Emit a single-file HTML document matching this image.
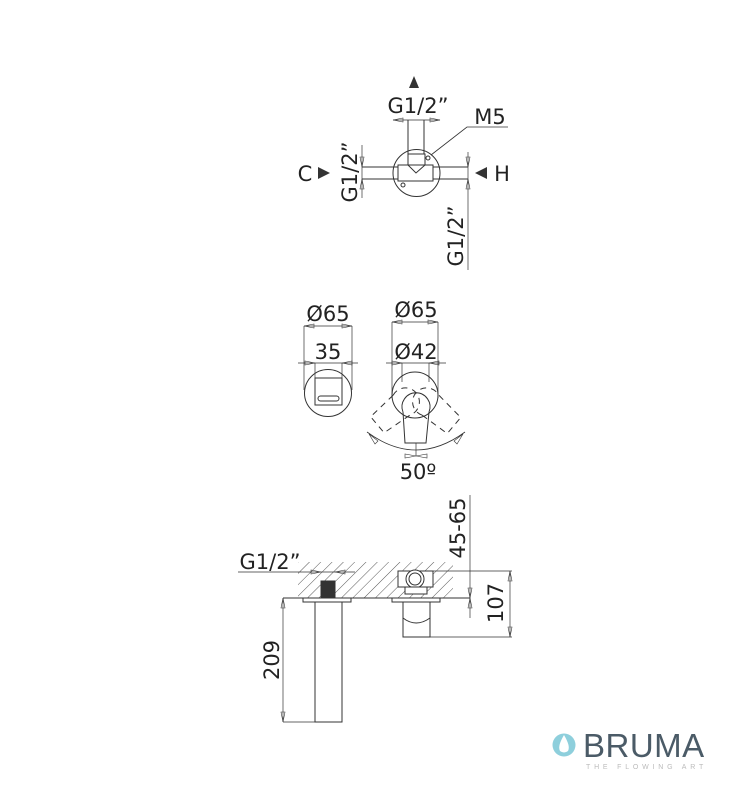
<!DOCTYPE html>
<html><head><meta charset="utf-8"><style>
html,body{margin:0;padding:0;background:#fff}
svg{display:block}
text{font-family:"DejaVu Sans","Liberation Sans",sans-serif;fill:#222}
</style></head><body>
<svg width="750" height="800" viewBox="0 0 750 800" xmlns="http://www.w3.org/2000/svg">
<defs>
<pattern id="h" width="8" height="8" patternUnits="userSpaceOnUse" patternTransform="rotate(45)">
<line x1="0" y1="0" x2="0" y2="8" stroke="#444" stroke-width="0.9"/>
</pattern>
</defs>
<g fill="none" stroke="#333" stroke-width="1">
<!-- TOP VIEW -->
<circle cx="416.5" cy="173" r="23.5"/>
<line x1="408" y1="120" x2="408" y2="154"/>
<line x1="424" y1="120" x2="424" y2="154"/>
<rect x="408" y="154" width="17" height="11"/>
<polyline points="408,165 416,173 425,165"/>
<rect x="398" y="165" width="35" height="16"/>
<circle cx="403" cy="185" r="2"/>
<circle cx="428" cy="158" r="2"/>
<line x1="362" y1="167" x2="398" y2="167"/>
<line x1="362" y1="179" x2="398" y2="179"/>
<line x1="433" y1="167" x2="468" y2="167"/>
<line x1="433" y1="179" x2="468" y2="179"/>
<line x1="362" y1="145" x2="362" y2="198" stroke-width="0.7"/>
<line x1="468" y1="152" x2="468" y2="270" stroke-width="0.7"/>
<line x1="393" y1="120" x2="440" y2="120" stroke-width="0.7"/>
<polyline points="431,155 467,127 508,127" stroke-width="0.8"/>
<!-- MIDDLE LEFT -->
<circle cx="328" cy="393" r="23.5"/>
<line x1="304" y1="326" x2="304" y2="390" stroke-width="0.7"/>
<line x1="352" y1="326" x2="352" y2="390" stroke-width="0.7"/>
<line x1="304" y1="326" x2="352" y2="326" stroke-width="0.7"/>
<line x1="298" y1="363" x2="358" y2="363" stroke-width="0.7"/>
<line x1="315" y1="363" x2="315" y2="378" stroke-width="0.7"/>
<line x1="342" y1="363" x2="342" y2="378" stroke-width="0.7"/>
<rect x="315" y="378" width="27" height="27"/>
<rect x="318" y="396" width="21" height="5" rx="2.5"/>
<!-- MIDDLE RIGHT -->
<line x1="392" y1="322" x2="438" y2="322" stroke-width="0.7"/>
<line x1="392" y1="322" x2="392" y2="398" stroke-width="0.7"/>
<line x1="438" y1="322" x2="438" y2="398" stroke-width="0.7"/>
<line x1="386" y1="363" x2="446" y2="363" stroke-width="0.7"/>
<line x1="402" y1="363" x2="402" y2="382" stroke-width="0.7"/>
<line x1="429" y1="363" x2="429" y2="382" stroke-width="0.7"/>
<circle cx="415" cy="395" r="23"/>
<path d="M403,412 A14,14 0 1 1 429,412"/>
<polyline points="403,412 405,443 426,443 429,412"/>
<g stroke-dasharray="6,5">
<g transform="rotate(-50 416 393)"><path d="M403,412 A14,14 0 1 1 429,412"/><polyline points="403,412 405,443 426,443 429,412"/></g>
<g transform="rotate(50 416 393)"><path d="M403,412 A14,14 0 1 1 429,412"/><polyline points="403,412 405,443 426,443 429,412"/></g>
</g>
<path d="M367,432 Q416,468 465,432" stroke-width="0.8"/>
<line x1="416" y1="443" x2="416" y2="456" stroke-width="0.7"/>
<!-- BOTTOM -->
<rect x="298" y="562" width="155" height="36" fill="url(#h)" stroke="none"/>
<rect x="398" y="571" width="35" height="16" fill="#fff"/>
<circle cx="415" cy="579" r="9" fill="#fff"/>
<circle cx="415" cy="579" r="6"/>
<rect x="405" y="587" width="22" height="7" fill="#fff"/>
<rect x="321" y="581" width="14" height="17" fill="#333"/>
<line x1="283" y1="598" x2="470" y2="598"/>
<rect x="303" y="598" width="48" height="4"/>
<rect x="392" y="598" width="48" height="4"/>
<rect x="315" y="602" width="27" height="120"/>
<rect x="403" y="602" width="27" height="35"/>
<path d="M403,618 Q416,628 430,618" />
<line x1="433" y1="571" x2="512" y2="571" stroke-width="0.7"/>
<line x1="430" y1="637" x2="512" y2="637" stroke-width="0.7"/>
<line x1="510" y1="571" x2="510" y2="637" stroke-width="0.7"/>
<line x1="470" y1="495" x2="470" y2="618" stroke-width="0.7"/>
<line x1="238" y1="572" x2="355" y2="572" stroke-width="0.7"/>
<line x1="283" y1="598" x2="283" y2="722" stroke-width="0.7"/>
<line x1="283" y1="722" x2="315" y2="722" stroke-width="0.7"/>
</g>
<!-- arrowheads -->
<g fill="#333">
<polygon points="414,76 409,88 419,88"/>
<polygon points="318,167 318,179 330,173"/>
<polygon points="487,167 487,179 475,173"/>
</g>
<g fill="none" stroke="#333" stroke-width="0.6">
<polygon points="393,120 403,118 403,122"/><polygon points="440,120 430,118 430,122"/>
<polygon points="362,167 360,157 364,157"/><polygon points="362,179 360,189 364,189"/>
<polygon points="468,167 466,157 470,157"/><polygon points="468,179 466,189 470,189"/>
<polygon points="304,326 314,324 314,328"/><polygon points="352,326 342,324 342,328"/>
<polygon points="315,363 305,361 305,365"/><polygon points="342,363 352,361 352,365"/>
<polygon points="392,322 402,320 402,324"/><polygon points="438,322 428,320 428,324"/>
<polygon points="402,363 392,361 392,365"/><polygon points="429,363 439,361 439,365"/>
<polygon points="416,456 405,454 405,458"/><polygon points="416,456 427,454 427,458"/>
<polygon points="369,434 375,444 378,441"/><polygon points="463,434 457,444 454,441"/>
<polygon points="510,571 508,581 512,581"/><polygon points="510,637 508,627 512,627"/>
<polygon points="470,598 468,588 472,588"/><polygon points="470,598 468,608 472,608"/>
<polygon points="283,598 281,608 285,608"/><polygon points="283,722 281,712 285,712"/>
<polygon points="321,572 311,570 311,574"/><polygon points="335,572 345,570 345,574"/>
</g>
<!-- text -->
<g font-size="21">
<text x="418" y="113" text-anchor="middle">G1/2”</text>
<text x="490" y="124" text-anchor="middle">M5</text>
<text x="305" y="181" text-anchor="middle">C</text>
<text x="502" y="181" text-anchor="middle">H</text>
<text transform="translate(357,172) rotate(-90)" text-anchor="middle">G1/2”</text>
<text transform="translate(463,236) rotate(-90)" text-anchor="middle">G1/2”</text>
<text x="328" y="321" text-anchor="middle">Ø65</text>
<text x="328" y="359" text-anchor="middle">35</text>
<text x="416" y="317" text-anchor="middle">Ø65</text>
<text x="416" y="359" text-anchor="middle">Ø42</text>
<text x="418" y="479" text-anchor="middle">50º</text>
<text x="270" y="569" text-anchor="middle">G1/2”</text>
<text transform="translate(465,528) rotate(-90)" text-anchor="middle">45-65</text>
<text transform="translate(503,603) rotate(-90)" text-anchor="middle">107</text>
<text transform="translate(279,660) rotate(-90)" text-anchor="middle">209</text>
</g>
<!-- logo -->
<circle cx="564" cy="745" r="11.5" fill="#8ecfdc"/>
<path d="M564,735 C560,742 558,747 560,751 Q564,754 568,751 C570,747 568,742 564,735 Z" fill="#fff"/>
<text x="583" y="757" font-size="33" letter-spacing="0.5" style="font-family:'Liberation Sans',sans-serif;fill:#4b5b67">BRUMA</text>
<text x="586" y="769" font-size="7" letter-spacing="3.8" style="font-family:'Liberation Sans',sans-serif;fill:#bbb">THE FLOWING ART</text>
</svg>
</body></html>
